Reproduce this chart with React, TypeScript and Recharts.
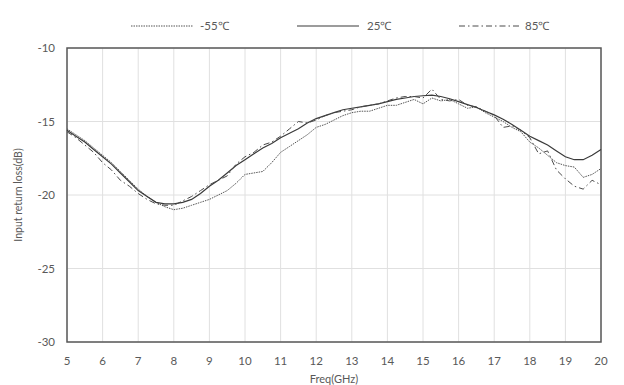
import {
  LineChart,
  Line,
  XAxis,
  YAxis,
  CartesianGrid,
  Legend,
  ReferenceArea,
} from 'recharts'

const freqs = [
  5, 5.25, 5.5, 5.75, 6, 6.25, 6.5, 6.75, 7, 7.25, 7.5, 7.75, 8, 8.25, 8.5, 8.75,
  9, 9.25, 9.5, 9.75, 10, 10.25, 10.5, 10.75, 11, 11.25, 11.5, 11.75, 12, 12.25,
  12.5, 12.75, 13, 13.25, 13.5, 13.75, 14, 14.25, 14.5, 14.75, 15, 15.25, 15.5,
  15.75, 16, 16.25, 16.5, 16.75, 17, 17.25, 17.5, 17.75, 18, 18.25, 18.5, 18.75,
  19, 19.25, 19.5, 19.75, 20,
]

const lossM55 = [
  -15.5, -15.9, -16.3, -16.8, -17.3, -17.8, -18.4, -19.0, -19.6, -20.1, -20.5,
  -20.8, -21.0, -20.9, -20.7, -20.5, -20.3, -20.0, -19.7, -19.2, -18.6, -18.5,
  -18.4, -17.8, -17.1, -16.7, -16.3, -15.9, -15.4, -15.2, -14.9, -14.6, -14.4,
  -14.3, -14.3, -14.1, -13.9, -13.9, -13.7, -13.5, -13.8, -13.4, -13.6, -13.5,
  -13.8, -14.1, -14.0, -14.4, -14.7, -15.0, -15.4, -15.7, -16.4, -16.8, -17.3,
  -17.8, -18.0, -18.1, -18.8, -18.6, -18.2,
]

const loss25 = [
  -15.6, -16.0, -16.4, -16.9, -17.4, -17.9, -18.5, -19.1, -19.7, -20.1, -20.5,
  -20.6, -20.6, -20.5, -20.3, -19.9, -19.4, -19.0, -18.5, -18.0, -17.6, -17.2,
  -16.8, -16.5, -16.1, -15.8, -15.5, -15.1, -14.8, -14.6, -14.4, -14.2, -14.1,
  -14.0, -13.9, -13.8, -13.65, -13.5, -13.4, -13.3, -13.25, -13.2, -13.3, -13.45,
  -13.65, -13.85, -14.05, -14.3, -14.55, -14.85, -15.2, -15.6, -16.0, -16.3,
  -16.6, -17.0, -17.4, -17.6, -17.6, -17.3, -16.9,
]

const loss85 = [
  -15.7, -16.1, -16.6, -17.1, -17.8, -18.3, -19.0, -19.4, -19.9, -20.3, -20.6,
  -20.7, -20.7, -20.4, -20.1, -19.7, -19.3, -19.0, -18.7, -17.9, -17.4, -17.1,
  -16.6, -16.4, -16.0, -15.5, -15.0, -15.1, -14.9, -14.6, -14.4, -14.3, -14.2,
  -14.0, -13.9, -13.8, -13.6, -13.4, -13.3, -13.3, -13.4, -12.8, -13.5, -13.6,
  -13.5, -13.9, -14.0, -14.3, -14.6, -15.4, -15.3, -15.6, -16.1, -17.2, -17.0,
  -18.3, -18.9, -19.4, -19.6, -19.0, -19.3,
]

const xTicks = [5, 6, 7, 8, 9, 10, 11, 12, 13, 14, 15, 16, 17, 18, 19, 20]
const yTicks = [-30, -25, -20, -15, -10]

const series = [
  { key: 'm55', name: '-55℃', color: '#555555', dash: '1.5 1', width: 1 },
  { key: 't25', name: '25℃', color: '#3a3a3a', dash: undefined, width: 1.2 },
  { key: 't85', name: '85℃', color: '#4a4a4a', dash: '6 3 1.5 3', width: 1 },
]

const chartData = freqs.map((f, i) => ({
  f,
  m55: lossM55[i],
  t25: loss25[i],
  t85: loss85[i],
}))

const font = 'Lato, "Open Sans", sans-serif'
const textColor = '#595959'

function LegendRow() {
  const items = [
    { x: 131, textX: 200 },
    { x: 297, textX: 367 },
    { x: 459, textX: 525 },
  ]
  return (
    <svg width={624} height={20}>
      {series.map((s, i) => (
        <g key={s.key}>
          <line
            x1={items[i].x}
            x2={items[i].x + 62}
            y1={10}
            y2={10}
            stroke={s.color}
            strokeWidth={s.width}
            strokeDasharray={s.dash}
          />
          <text
            x={items[i].textX}
            y={14}
            fontSize={11.5}
            fill={textColor}
            fontFamily={font}
          >
            {s.name}
          </text>
        </g>
      ))}
    </svg>
  )
}

export default function App() {
  return (
    <div style={{ position: 'absolute', left: 0, top: 0, background: '#fff' }}>
      <LineChart
        width={624}
        height={385}
        data={chartData}
        margin={{ top: 28, right: 23, left: 22, bottom: 0 }}
      >
        <Legend
          verticalAlign="top"
          height={20}
          content={() => <LegendRow />}
          wrapperStyle={{ top: 16, left: 0 }}
        />
        <CartesianGrid stroke="#e0e0e0" strokeWidth={1} />
        <XAxis
          dataKey="f"
          type="number"
          domain={[5, 20]}
          ticks={xTicks}
          interval={0}
          tickLine={false}
          axisLine={false}
          tickMargin={9}
          height={43}
          tick={{ fontSize: 11.5, fill: textColor, fontFamily: font }}
          label={{
            value: 'Freq(GHz)',
            position: 'insideBottom',
            offset: 2,
            fontSize: 11,
            fill: textColor,
            fontFamily: font,
          }}
        />
        <YAxis
          type="number"
          domain={[-30, -10]}
          ticks={yTicks}
          interval={0}
          tickLine={false}
          axisLine={false}
          tickMargin={6}
          width={45}
          tick={{ fontSize: 11.5, fill: textColor, fontFamily: font }}
          label={{
            value: 'Input return loss(dB)',
            angle: -90,
            position: 'insideLeft',
            offset: -4,
            style: { textAnchor: 'middle' },
            fontSize: 10.5,
            fill: textColor,
            fontFamily: font,
          }}
        />
        <ReferenceArea
          x1={5}
          x2={20}
          y1={-30}
          y2={-10}
          fill="none"
          stroke="#595959"
          strokeWidth={1.5}
        />
        {series.map((s) => (
          <Line
            key={s.key}
            type="linear"
            dataKey={s.key}
            name={s.name}
            stroke={s.color}
            strokeWidth={s.width}
            strokeDasharray={s.dash}
            dot={false}
            isAnimationActive={false}
          />
        ))}
      </LineChart>
    </div>
  )
}
